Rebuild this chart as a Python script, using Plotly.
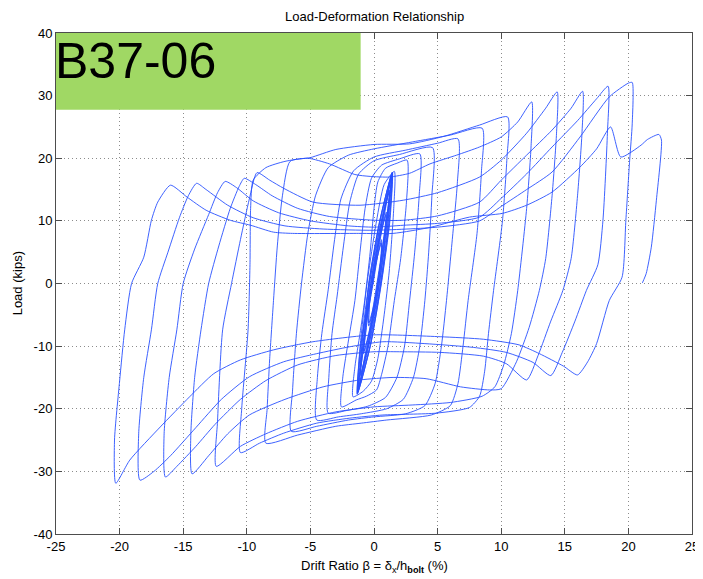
import plotly.graph_objects as go

# ---------------- data ----------------
# small elastic cycles around the origin (lens-shaped loops)
drift_core = [0.0, -0.13, 0.19, 0.58, 0.53, 0.29, -0.02, -0.40, -0.36,
              -0.11, 0.21, 0.60, 0.55, 0.31, 0.00, -0.42, -0.38,
              -0.25, 0.28, 0.95, 0.80, 0.41, -0.12, -0.80, -0.64,
              -0.15, 0.36, 0.97, 0.72, 0.33, -0.20, -0.82, -0.56,
              -0.34, 0.36, 1.20, 1.04, 0.50, -0.20, -1.05, -0.88,
              -0.22, 0.46, 1.22, 0.94, 0.40, -0.30, -1.07, -0.78,
              -0.07, 0.69, 1.38, 0.93, 0.23, -0.53, -1.25, -0.77,
              -0.17, 0.61, 1.40, 1.01, 0.33, -0.45, -1.27, -0.85,
              -0.27, 0.53, 1.41, 1.09, 0.43, -0.37, -1.28, -0.93,
              -0.37, 0.45, 1.42, 1.17, 0.53, -0.29, -1.29, -1.01,
              -0.40, 0.43, 1.43, 1.21, 0.56, -0.27, -1.30, -1.05,
              -0.12, 0.65, 1.44, 0.97, 0.28, -0.49, -1.31, -0.81,
              -0.42, 0.45, 1.45, 1.25, 0.58, -0.29, -1.32, -1.09]
load_core = [0.0, 0.0, 3.6, 6.5, 3.6, 0.0, -3.5, -6.3, -3.5,
             0.0, 3.8, 7.0, 3.8, 0.0, -3.7, -6.8, -3.7,
             0.0, 6.0, 11.0, 6.0, 0.0, -6.0, -10.8, -6.0,
             0.0, 6.2, 11.4, 6.2, 0.0, -6.2, -11.2, -6.2,
             0.0, 8.0, 14.5, 8.0, 0.0, -8.0, -14.3, -8.0,
             0.0, 8.2, 14.9, 8.2, 0.0, -8.2, -14.7, -8.2,
             0.0, 9.5, 17.2, 9.5, 0.0, -9.5, -17.0, -9.5,
             0.0, 9.5, 17.4, 9.5, 0.0, -9.5, -17.2, -9.5,
             0.0, 9.6, 17.5, 9.6, 0.0, -9.6, -17.3, -9.6,
             0.0, 9.7, 17.6, 9.7, 0.0, -9.7, -17.4, -9.7,
             0.0, 9.8, 17.7, 9.8, 0.0, -9.8, -17.5, -9.8,
             0.0, 9.9, 17.7, 9.9, 0.0, -9.9, -17.6, -9.9,
             0.0, 10.0, 17.8, 10.0, 0.0, -10.0, -17.7, -10.0]

drift_a16 = [-0.55, 0.2, 0.8, 1.6, 1.55, 1.2, 0.8, 0.3, -0.2, -0.85, -1.65]
load_a16 = [0.0, 10.0, 15.8, 17.9, 12.0, 2.0, -5.0, -12.0, -15.6, -17.2, -18.1]

drift_a26 = [-1.5, -1.1, -0.73, -0.3, 0.0, 0.3, 0.9, 1.8, 2.6,
             2.55, 2.1, 1.6, 1.1, 0.6, 0.2, -0.6, -1.4, -2.56]
load_a26 = [-13.3, -8.0, -2.7, 5.0, 12.0, 16.2, 18.4, 19.2, 19.7,
            13.0, 4.0, -2.7, -10.0, -14.5, -17.0, -18.0, -18.6, -19.7]

drift_a36 = [-2.45, -2.0, -1.5, -1.1, -0.7, -0.2, 0.6, 2.0, 3.6,
             3.55, 3.2, 2.8, 2.4, 1.8, 0.9, -0.5, -2.2, -3.6]
load_a36 = [-14.9, -9.0, -2.7, 5.0, 12.0, 16.8, 18.9, 19.9, 20.7,
            14.0, 5.0, -2.7, -10.0, -15.0, -18.2, -19.6, -20.3, -20.7]

drift_a46 = [-3.55, -3.3, -2.9, -2.4, -1.9, -1.2, 0.0, 2.0, 4.6,
             4.55, 4.3, 4.0, 3.6, 3.1, 2.3, 1.0, -1.0, -2.8, -4.5]
load_a46 = [-15.0, -8.0, -2.0, 6.0, 13.0, 17.5, 19.6, 20.6, 21.7,
            14.0, 5.0, -2.7, -10.0, -15.0, -18.5, -20.0, -20.8, -21.3, -21.8]

drift_a66 = [-4.45, -4.1, -3.6, -3.1, -2.6, -1.6, 0.0, 2.5, 5.0, 6.6,
             6.55, 6.2, 5.7, 5.3, 4.8, 4.0, 2.5, 0.0, -2.0, -4.5, -6.5]
load_a66 = [-15.0, -8.0, -1.0, 7.0, 13.5, 18.0, 20.2, 21.3, 22.4, 23.1,
            16.0, 8.0, -2.7, -10.0, -16.0, -19.5, -20.8, -21.3, -21.8, -22.8, -23.6]

drift_a85 = [-6.4, -6.1, -5.7, -5.2, -4.6, -3.6, -2.0, 0.0, 3.0, 6.0, 8.5,
             8.45, 8.1, 7.4, 7.0, 6.6, 6.0, 4.5, 1.0, -1.0, -3.0, -6.0, -8.5]
load_a85 = [-17.0, -8.0, 0.0, 8.0, 14.0, 18.5, 20.5, 21.5, 22.6, 23.7, 24.8,
            18.0, 8.0, -2.7, -10.0, -16.0, -19.5, -21.0, -21.8, -22.3, -22.8, -24.2, -25.5]

drift_a105 = [-8.4, -8.2, -7.9, -7.6, -7.2, -6.6, -5.0, -3.0, 0.0, 2.8, 5.5, 8.3, 10.5,
              10.45, 10.1, 9.4, 9.0, 8.7, 8.3, 7.5, 4.9, 0.7, -1.9, -4.5, -7.1, -9.0, -10.5]
load_a105 = [-20.0, -12.0, -2.7, 6.0, 14.0, 19.5, 20.1, 21.4, 22.2, 22.3, 23.5, 25.3, 26.6,
             20.0, 10.0, -1.1, -8.0, -14.0, -18.0, -19.8, -20.7, -21.0, -21.5, -22.3, -23.9, -25.5, -27.0]

drift_a124 = [-10.4, -9.9, -9.75, -9.7, -9.5, -8.5, -7.0, -5.2, -3.5, -1.5, -0.3, 1.2, 2.8, 4.4,
              6.5, 8.3, 10.0, 11.3, 12.4,
              12.35, 12.0, 11.3, 10.8, 10.2, 9.5, 8.5, 6.0, 3.0, 0.0, -3.0, -6.0, -8.5, -10.5, -12.4]
load_a124 = [-20.0, -7.4, 3.0, 12.0, 16.5, 18.5, 19.5, 20.0, 19.1, 17.4, 17.1, 17.0, 17.6, 19.1,
             20.5, 21.8, 23.4, 25.8, 29.0,
             22.0, 12.0, -1.1, -8.0, -13.0, -16.5, -18.0, -19.0, -19.4, -19.7, -20.5, -22.0, -24.0, -26.0, -29.2]

drift_a144 = [-12.3, -11.9, -11.2, -10.5, -9.8, -9.2, -8.2, -7.1, -4.8, -1.1, 2.3, 5.0, 8.3, 10.0,
              12.0, 13.5, 14.4,
              14.35, 14.0, 13.5, 13.0, 12.2, 11.2, 10.0, 9.1, 6.8, 4.1, 1.5, -1.1, -4.0, -7.0, -9.8,
              -11.5, -13.0, -14.3]
load_a144 = [-22.0, -7.4, 0.0, 7.0, 13.5, 17.7, 16.5, 15.2, 13.0, 12.5, 13.3, 14.5, 17.0, 19.7,
             24.0, 28.0, 30.6,
             24.0, 14.0, 4.0, -1.1, -7.0, -12.5, -16.8, -17.0, -16.5, -15.2, -15.0, -15.4, -16.5, -18.5, -21.0,
             -24.0, -27.5, -30.4]

drift_a164 = [-14.4, -14.1, -13.6, -13.0, -12.2, -11.3, -10.6, -10.2, -9.3, -8.0, -6.0, -3.5, 0.0, 2.3,
              5.0, 8.3, 10.0, 12.0, 14.0, 15.5, 16.4,
              16.35, 16.0, 15.5, 14.85, 13.9, 12.9, 12.0, 10.4, 8.6, 5.2, 2.0, 0.0, -3.0, -6.0, -8.5,
              -10.5, -12.5, -14.0, -15.5, -16.4]
load_a164 = [-24.0, -15.0, -7.4, 0.0, 6.0, 12.0, 15.5, 16.8, 15.8, 14.0, 12.0, 10.7, 10.1, 10.1,
             10.8, 13.0, 16.5, 20.5, 24.5, 28.0, 30.7,
             24.0, 14.0, 4.0, -1.1, -6.0, -11.5, -15.4, -12.8, -11.6, -11.0, -10.9, -10.9, -11.5, -13.0, -15.5,
             -18.5, -22.5, -26.0, -29.2, -30.9]

drift_a184 = [-16.5, -16.1, -15.5, -15.0, -14.1, -13.0, -12.3, -11.7, -10.8, -9.5, -7.5, -5.0, -2.0, 0.0,
              2.3, 5.0, 8.3, 10.0, 12.0, 14.0, 16.0, 17.5, 18.4,
              18.35, 18.0, 17.6, 16.7, 15.8, 14.8, 13.9, 12.5, 10.4, 7.8, 4.0, 0.7, -1.9, -4.5, -7.1,
              -9.8, -12.0, -14.0, -16.0, -17.3, -18.4]
load_a184 = [-24.0, -15.0, -7.4, 0.0, 5.5, 11.0, 14.5, 16.3, 15.3, 13.2, 11.3, 10.0, 9.2, 9.0,
             9.3, 9.6, 10.6, 13.6, 17.5, 21.8, 26.0, 29.5, 31.5,
             24.0, 10.1, 3.0, -1.1, -6.0, -11.0, -14.7, -12.6, -11.0, -10.2, -9.6, -9.3, -10.1, -11.2, -12.5,
             -14.9, -18.5, -23.0, -27.5, -30.0, -31.4]

drift_a203 = [-18.5, -18.1, -17.5, -17.0, -16.2, -15.3, -14.6, -13.95, -13.2, -11.5, -9.5, -7.0, -4.0, 0.0,
              5.0, 8.3, 10.0, 12.0, 14.0, 16.2, 18.5, 20.0, 20.3,
              20.3, 20.1, 19.8, 19.5, 18.5, 17.5, 16.8, 16.0, 14.9, 13.0, 11.4, 8.6, 5.2, 0.0, -4.8,
              -7.9, -10.5, -12.6, -14.5, -16.8, -19.2, -20.3]
load_a203 = [-24.0, -15.0, -7.4, 0.0, 5.0, 10.5, 14.0, 16.0, 15.0, 12.5, 10.5, 9.2, 8.7, 8.5,
             9.0, 10.0, 12.3, 15.0, 17.8, 23.4, 29.8, 32.0, 32.1,
             25.5, 19.7, 10.1, 1.0, -2.7, -9.6, -12.5, -14.6, -13.2, -11.2, -9.8, -8.9, -8.5, -8.2, -9.3,
             -10.6, -12.2, -14.4, -18.1, -22.9, -28.2, -31.9]

drift_fin = [-20.4, -20.0, -19.6, -19.06, -18.1, -17.5, -17.0, -16.0, -14.7, -13.2, -11.3, -9.7, -7.9,
             -6.4, -1.2, 1.5, 4.5, 7.5, 10.1, 12.0, 14.0, 16.2, 17.5, 18.6, 19.4, 21.0, 21.5, 22.4,
             22.6, 22.2, 21.8, 21.4, 21.1]
load_fin = [-25.0, -15.6, -7.4, 0.0, 4.2, 10.1, 13.0, 15.7, 13.8, 11.7, 10.1, 9.3, 8.2,
            8.0, 8.0, 8.0, 9.0, 10.6, 11.2, 12.5, 14.6, 18.6, 21.5, 25.0, 20.2, 22.1, 23.0, 23.8,
            22.9, 13.3, 5.8, 1.6, 0.1]

x_ticks = [-25, -20, -15, -10, -5, 0, 5, 10, 15, 20, 25]
y_ticks = [-40, -30, -20, -10, 0, 10, 20, 30, 40]
specimen_label = "B37-06"

# ---------------- assemble the continuous load path ----------------
drift = (drift_core + drift_a16 + drift_a26 + drift_a36 + drift_a46 + drift_a66 + drift_a85
         + drift_a105 + drift_a124 + drift_a144 + drift_a164 + drift_a184 + drift_a203 + drift_fin)
load = (load_core + load_a16 + load_a26 + load_a36 + load_a46 + load_a66 + load_a85
        + load_a105 + load_a124 + load_a144 + load_a164 + load_a184 + load_a203 + load_fin)

FONT = "Liberation Sans, Arial, Helvetica, sans-serif"
AXC = "#4d4d4d"

fig = go.Figure()
fig.add_trace(go.Scatter(x=drift, y=load, mode="lines",
                         line=dict(color="rgb(40,80,255)", width=0.9,
                                   shape="spline", smoothing=0.6),
                         hoverinfo="skip", showlegend=False))

axis_common = dict(showgrid=True, gridcolor="#8c8c8c", griddash="1px,3px", gridwidth=1,
                   zeroline=False, showline=True, linecolor=AXC, linewidth=1,
                   mirror="ticks", ticks="inside", ticklen=6, tickcolor=AXC,
                   automargin=False,
                   tickfont=dict(family=FONT, size=13, color="black"))

fig.update_xaxes(range=[-25, 25], tickvals=x_ticks, ticktext=[str(v) for v in x_ticks],
                 **axis_common)
fig.update_yaxes(range=[-40, 40], tickvals=y_ticks, ticktext=[str(v) for v in y_ticks],
                 **axis_common)

# green label box in the upper-left corner
fig.add_shape(type="rect", xref="x", yref="y", x0=-25, x1=-1.05, y0=27.75, y1=40,
              fillcolor="#a0d864", line=dict(width=0), layer="above")
fig.add_annotation(x=-25, y=35.5, xref="x", yref="y", text=specimen_label,
                   showarrow=False, xanchor="left", yanchor="middle", xshift=-3,
                   font=dict(family=FONT, size=50, color="black"))

# titles
fig.add_annotation(x=0.5, y=1.032, xref="paper", yref="paper",
                   text="Load-Deformation Relationship", showarrow=False,
                   xanchor="center", yanchor="middle",
                   font=dict(family=FONT, size=13, color="black"))
fig.add_annotation(x=0.5, y=-0.064, xref="paper", yref="paper",
                   text="Drift Ratio β = δ<sub>x</sub>/h<sub><b>bolt</b></sub> (%)",
                   showarrow=False, xanchor="center", yanchor="middle",
                   font=dict(family=FONT, size=13, color="black"))
fig.add_annotation(x=-0.06, y=0.5, xref="paper", yref="paper",
                   text="Load (kips)", showarrow=False, textangle=-90,
                   xanchor="center", yanchor="middle",
                   font=dict(family=FONT, size=13, color="black"))

# the page body adds an 8px offset, so the figure is 8px smaller than the window
fig.update_layout(width=695, height=571,
                  margin=dict(l=48, r=11, t=25, b=45),
                  paper_bgcolor="white", plot_bgcolor="white",
                  showlegend=False)

fig.write_html("out.html")
